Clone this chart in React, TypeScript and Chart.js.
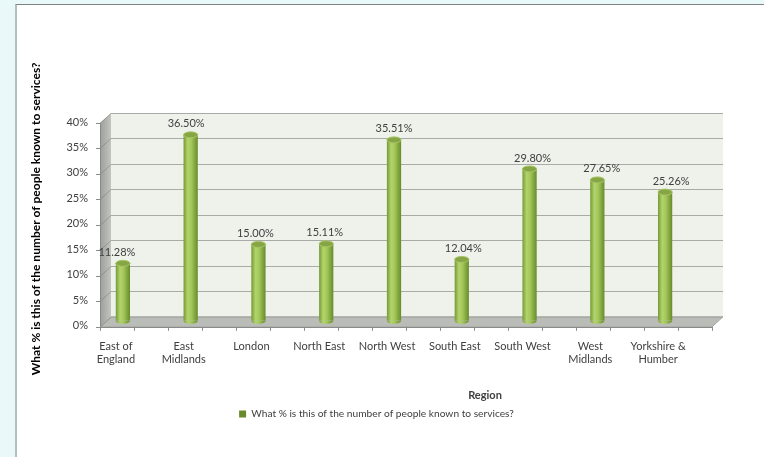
import React, { useEffect, useRef } from "react";
import { Chart, registerables } from "chart.js";

Chart.register(...registerables);

// ---- data ----
const categories: (string | string[])[] = [
  ["East of", "England"],
  ["East", "Midlands"],
  "London",
  "North East",
  "North West",
  "South East",
  "South West",
  ["West", "Midlands"],
  ["Yorkshire &", "Humber"],
];
const values = [11.28, 36.5, 15.0, 15.11, 35.51, 12.04, 29.8, 27.65, 25.26];
const seriesLabel = "What % is this of the number of people known to services?";
const yAxisTitle = "What % is this of the number of people known to services?";
const xAxisTitle = "Region";
const yMin = 0;
const yMax = 40;
const yStep = 5;

// ---- styling constants ----
const FONT = "Lato";
const TEXT = "#404040";
const BAR_PCT = 0.21;
const DX = 11; // depth offset (x)
const DYB = -4; // back wall y offset
const DYF = 6; // front plane y offset
const BASE_GREEN = "#9bbb59";

function barGradient(ctx: CanvasRenderingContext2D, cx: number, w: number) {
  if (!Number.isFinite(cx) || !Number.isFinite(w) || w <= 0) return BASE_GREEN;
  const g = ctx.createLinearGradient(cx - w / 2, 0, cx + w / 2, 0);
  g.addColorStop(0, "#769a34");
  g.addColorStop(0.3, "#b3d46c");
  g.addColorStop(0.55, "#a3c75a");
  g.addColorStop(1, "#678b2a");
  return g;
}

const scenePlugin = {
  id: "scene3d",
  beforeDraw(chart: any) {
    const { ctx, chartArea: a, scales } = chart;
    const y = scales.y;
    if (!a || !y) return;
    const L = a.left, R = a.right;
    const bx0 = L + 2 * DX, bx1 = R + 2 * DX + 2;
    const fx0 = bx0 - DX, fx1 = bx1 - DX;
    const top = y.getPixelForValue(yMax);
    const bot = y.getPixelForValue(yMin);
    ctx.save();
    // back wall
    ctx.fillStyle = "#eef2ea";
    ctx.fillRect(bx0, top + DYB, bx1 - bx0, bot - top);
    // side wall
    const sg = ctx.createLinearGradient(fx0, 0, bx0, 0);
    sg.addColorStop(0, "#9c9e9a");
    sg.addColorStop(1, "#c3c5c1");
    ctx.fillStyle = sg;
    ctx.beginPath();
    ctx.moveTo(bx0, top + DYB);
    ctx.lineTo(fx0, top + DYF);
    ctx.lineTo(fx0, bot + DYF);
    ctx.lineTo(bx0, bot + DYB);
    ctx.closePath();
    ctx.fill();
    // floor
    ctx.fillStyle = "#babcb7";
    ctx.beginPath();
    ctx.moveTo(bx0, bot + DYB);
    ctx.lineTo(bx1, bot + DYB);
    ctx.lineTo(fx1, bot + DYF);
    ctx.lineTo(fx0, bot + DYF);
    ctx.closePath();
    ctx.fill();
    ctx.strokeStyle = "#a3a5a0";
    ctx.lineWidth = 1;
    ctx.stroke();
    // gridlines on back wall + side wall
    y.ticks.forEach((t: any) => {
      const py = Math.round(y.getPixelForValue(t.value) + DYB) + 0.5;
      ctx.strokeStyle = "#a9aba7";
      ctx.lineWidth = 1;
      ctx.beginPath();
      ctx.moveTo(bx0, py);
      ctx.lineTo(bx1, py);
      ctx.stroke();
      ctx.strokeStyle = "rgba(90,92,88,0.35)";
      ctx.beginPath();
      ctx.moveTo(bx0, py);
      ctx.lineTo(fx0, py + (DYF - DYB));
      ctx.stroke();
    });
    // front vertical axis + ticks
    ctx.strokeStyle = "#8a8a8a";
    ctx.lineWidth = 1;
    ctx.beginPath();
    ctx.moveTo(fx0 + 0.5, top + DYF);
    ctx.lineTo(fx0 + 0.5, bot + DYF);
    ctx.stroke();
    y.ticks.forEach((t: any) => {
      const py = Math.round(y.getPixelForValue(t.value) + DYF) + 0.5;
      ctx.beginPath();
      ctx.moveTo(fx0 - 4, py);
      ctx.lineTo(fx0 + 0.5, py);
      ctx.stroke();
    });
    // front horizontal axis ticks
    const n = categories.length * 2;
    for (let k = 0; k <= n; k++) {
      const px = Math.round(fx0 + ((fx1 - fx0) * k) / n) + 0.5;
      ctx.beginPath();
      ctx.moveTo(px, bot + DYF);
      ctx.lineTo(px, bot + DYF + 4);
      ctx.stroke();
    }
    ctx.beginPath();
    ctx.moveTo(fx0, Math.round(bot + DYF) + 0.5);
    ctx.lineTo(fx1, Math.round(bot + DYF) + 0.5);
    ctx.stroke();
    ctx.restore();
  },
  afterDatasetsDraw(chart: any) {
    const { ctx, chartArea: a } = chart;
    const meta = chart.getDatasetMeta(0);
    if (!a || !meta) return;
    ctx.save();
    meta.data.forEach((el: any, i: number) => {
      const { x, y, base, width } = el.getProps(["x", "y", "base", "width"], true);
      if (![x, y, base, width].every(Number.isFinite)) return;
      const rx = width / 2;
      const ry = 3;
      // rounded bottom
      ctx.fillStyle = barGradient(ctx, x, width);
      ctx.beginPath();
      ctx.ellipse(x, base, rx, ry, 0, 0, Math.PI);
      ctx.fill();
      // top cap
      ctx.fillStyle = "#86a544";
      ctx.strokeStyle = "#a8c665";
      ctx.lineWidth = 1;
      ctx.beginPath();
      ctx.ellipse(x, y, rx, ry, 0, 0, Math.PI * 2);
      ctx.fill();
      ctx.stroke();
      // value label
      ctx.fillStyle = TEXT;
      ctx.font = `11px ${FONT}`;
      ctx.textAlign = "center";
      ctx.textBaseline = "middle";
      ctx.fillText(values[i].toFixed(2) + "%", x + (i - 4) * 1.5, y - 11);
    });
    // x axis title
    ctx.fillStyle = TEXT;
    ctx.font = `bold 11px ${FONT}`;
    ctx.textAlign = "center";
    ctx.textBaseline = "middle";
    ctx.fillText(xAxisTitle, (a.left + a.right) / 2 + 91, a.bottom + 75);
    ctx.restore();
  },
};

export default function App() {
  const ref = useRef<HTMLCanvasElement | null>(null);
  useEffect(() => {
    if (!ref.current) return;
    Chart.defaults.font.family = FONT;
    const chart = new Chart(ref.current, {
      type: "bar",
      data: {
        labels: categories as any,
        datasets: [
          {
            label: seriesLabel,
            data: values,
            backgroundColor: (c: any) => {
              if (c.type !== "data") return BASE_GREEN;
              const ch = c.chart;
              const xs = ch.scales?.x;
              if (!xs || !ch.chartArea) return BASE_GREEN;
              const cx = xs.getPixelForValue(c.dataIndex);
              const w = ((xs.right - xs.left) / categories.length) * BAR_PCT;
              return barGradient(ch.ctx, cx, w);
            },
            borderColor: "#7f9e45",
            borderWidth: 0,
            barPercentage: BAR_PCT,
            categoryPercentage: 1,
          },
        ],
      },
      options: {
        responsive: false,
        animation: false,
        layout: { padding: { top: 117, left: 0, right: 11, bottom: 28 } },
        plugins: {
          tooltip: { enabled: false },
          legend: {
            position: "bottom",
            labels: {
              font: { size: 10.2, family: FONT },
              color: TEXT,
              boxWidth: 7,
              boxHeight: 7,
              padding: 10,
            },
          },
        },
        scales: {
          x: {
            type: "category",
            grid: { display: false, drawTicks: false },
            border: { display: false },
            ticks: {
              font: { size: 11, family: FONT },
              color: TEXT,
              padding: 19,
              labelOffset: -7,
              maxRotation: 0,
              autoSkip: false,
            },
            afterFit: (s: any) => {
              s.height = 78;
            },
          },
          y: {
            type: "linear",
            min: yMin,
            max: yMax,
            grid: { display: false, drawTicks: false },
            border: { display: false },
            ticks: {
              stepSize: yStep,
              font: { size: 11, family: FONT },
              color: TEXT,
              padding: 1,
              labelOffset: 5,
              callback: (v: any) => v + "%",
            },
            title: {
              display: true,
              text: yAxisTitle,
              font: { size: 12, weight: "bold", family: FONT },
              color: "#000",
              padding: { top: 28.5, bottom: 0 },
            },
            afterFit: (s: any) => {
              s.width = 89;
            },
          },
          y2: {
            type: "linear",
            position: "right",
            display: true,
            grid: { display: false, drawTicks: false },
            border: { display: false },
            ticks: { display: false },
            afterFit: (s: any) => {
              s.width = 54;
            },
          },
        },
      },
      plugins: [scenePlugin],
    } as any);
    return () => chart.destroy();
  }, []);

  return (
    <div style={{ position: "fixed", left: 0, top: 0, width: 764, height: 457, background: "#e9f8f8", overflow: "hidden" }}>
      <div
        style={{
          position: "absolute",
          left: 15,
          top: 4,
          width: 800,
          height: 500,
          background: "#ffffff",
          borderLeft: "2px solid #b5bebe",
          borderTop: "1px solid #7d8383",
        }}
      />
      <canvas ref={ref} width={764} height={457} style={{ position: "absolute", left: 0, top: 0, width: 764, height: 457 }} />
    </div>
  );
}
